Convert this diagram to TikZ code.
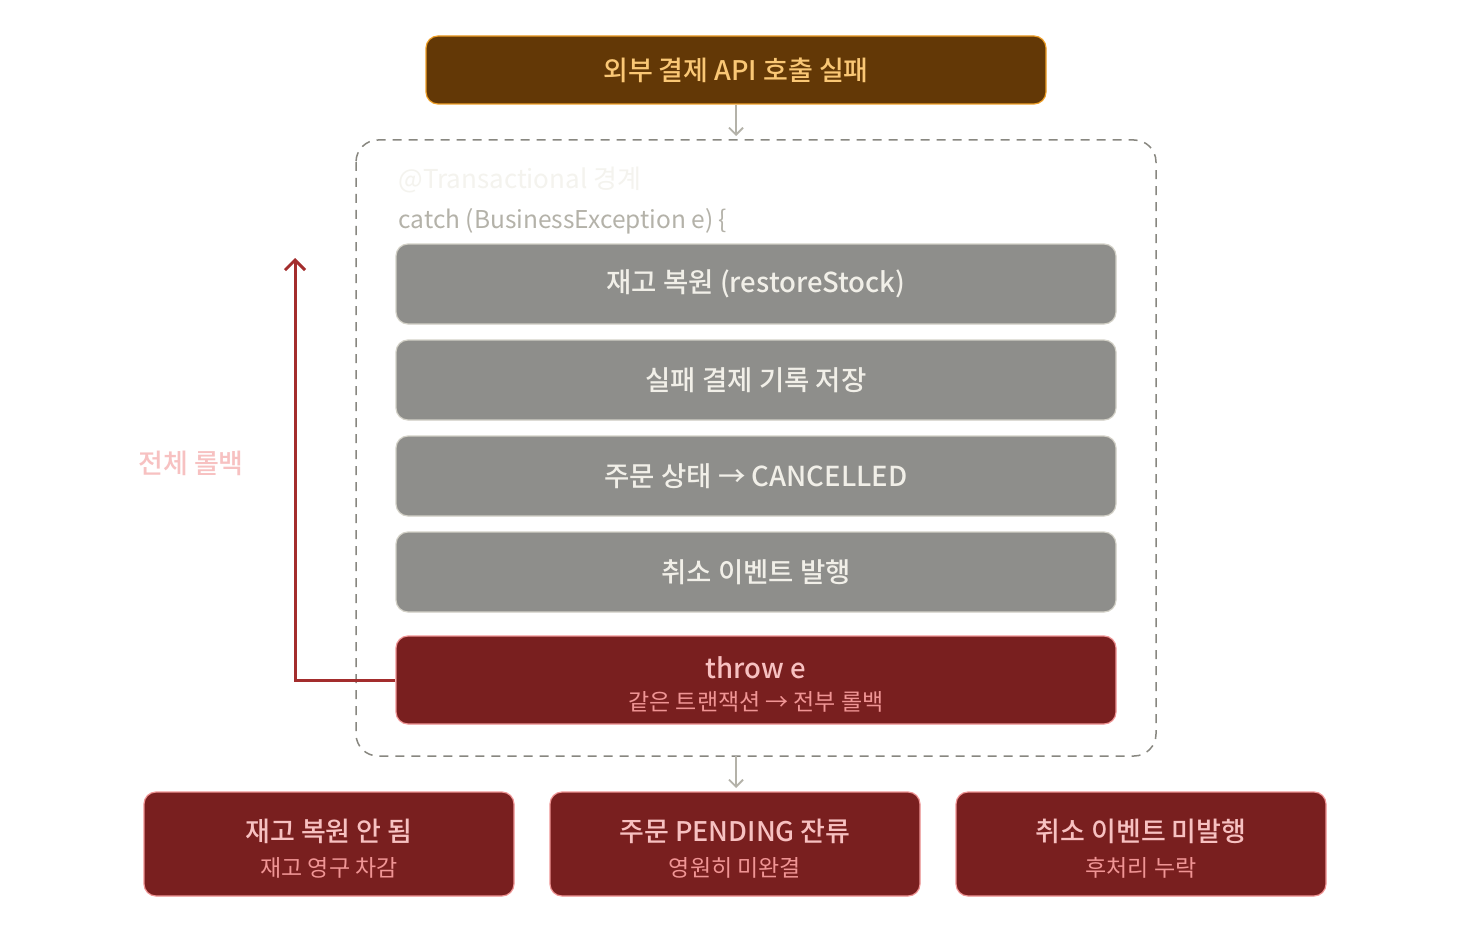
\documentclass[tikz,border=0pt]{standalone}
\usepackage{fontspec}
\setmainfont{Noto Sans CJK KR}[BoldFont={Noto Sans CJK KR Medium}]
\usetikzlibrary{arrows.meta}
\definecolor{brownfill}{HTML}{633806}
\definecolor{brownline}{HTML}{EF9F27}
\definecolor{browntext}{HTML}{FAC775}
\definecolor{redfill}{HTML}{791F1F}
\definecolor{redline}{HTML}{F09595}
\definecolor{redtitle}{HTML}{F7C1C1}
\definecolor{redarrow}{HTML}{A32D2D}
\definecolor{grayfill}{HTML}{8E8E8B}
\definecolor{grayline}{HTML}{D3D1C7}
\definecolor{graytext}{HTML}{F1EFE8}
\definecolor{dashgray}{HTML}{888780}
\definecolor{catchgray}{HTML}{B4B2A9}
\definecolor{faint}{HTML}{F4F3EE}
\tikzset{
  box/.style={rounded corners=12pt, line width=1.2pt, inner sep=0pt},
  graybox/.style={box, draw=grayline, fill=grayfill, minimum width=720pt, minimum height=80pt, text=graytext, font=\fontsize{27.5}{30}\selectfont\bfseries},
  redbox/.style={box, draw=redline, fill=redfill},
  bottombox/.style={redbox, minimum width=370pt, minimum height=104pt},
  ttl/.style={text=redtitle, font=\fontsize{27}{30}\selectfont\bfseries},
  sub/.style={text=redline, font=\fontsize{23}{25}\selectfont},
  flow/.style={draw=catchgray, line width=1.8pt, -{Straight Barb[length=7pt,width=14pt]}},
}
\begin{document}
\begin{tikzpicture}[x=1pt,y=-1pt]
\useasboundingbox[fill=white] (0,0) rectangle (1472,952);
% top box
\node[box, draw=brownline, fill=brownfill, minimum width=620pt, minimum height=68pt, text=browntext, font=\fontsize{27}{28}\selectfont\bfseries] (api) at (736,70) {외부 결제 API 호출 실패};
% container
\draw[dashgray, line width=1.5pt, dash pattern=on 9pt off 7pt, rounded corners=22pt] (356,140) rectangle (1156,756);
\coordinate (ctop) at (736,136);
\coordinate (cbot) at (736,756);
\node[anchor=west, text=faint, font=\fontsize{26}{28}\selectfont] (tlabel) at (395,180) {@Transactional 경계};
\node[anchor=west, text=catchgray, font=\fontsize{24.5}{26}\selectfont] (catch) at (395,221) {catch (BusinessException e) \{};
\node[graybox] (s1) at (756,284) {재고 복원 (restoreStock)};
\node[graybox] (s2) at (756,380) {실패 결제 기록 저장};
\node[graybox] (s3) at (756,476) {주문 상태 → CANCELLED};
\node[graybox] (s4) at (756,572) {취소 이벤트 발행};
\node[redbox, minimum width=720pt, minimum height=88pt] (thr) at (756,680) {};
\node[ttl, font=\fontsize{27.5}{30}\selectfont\bfseries] (thrt) at (756,668) {throw e};
\node[sub] (thrs) at (756,702) {같은 트랜잭션 → 전부 롤백};
% rollback arrow
\coordinate (rtop) at (295,258);
\draw[redarrow, line width=3pt, -{Straight Barb[length=10pt,width=20pt]}] (thr.west) -| (rtop);
\node[text=redtitle, font=\fontsize{27}{28}\selectfont\bfseries] (rb) at (191,463) {전체 롤백};
% arrows
\draw[flow] (api.south) -- (ctop);
\coordinate (bt) at (736,788);
\draw[flow] (cbot) -- (bt);
% bottom boxes
\node[bottombox] (b1) at (329,844) {};
\node[bottombox] (b2) at (735,844) {};
\node[bottombox] (b3) at (1141,844) {};
\node[ttl] (b1t) at (329,831) {재고 복원 안 됨};
\node[sub] (b1s) at (329,868) {재고 영구 차감};
\node[ttl] (b2t) at (735,831) {주문 PENDING 잔류};
\node[sub] (b2s) at (735,868) {영원히 미완결};
\node[ttl] (b3t) at (1141,831) {취소 이벤트 미발행};
\node[sub] (b3s) at (1141,868) {후처리 누락};
\end{tikzpicture}
\end{document}
